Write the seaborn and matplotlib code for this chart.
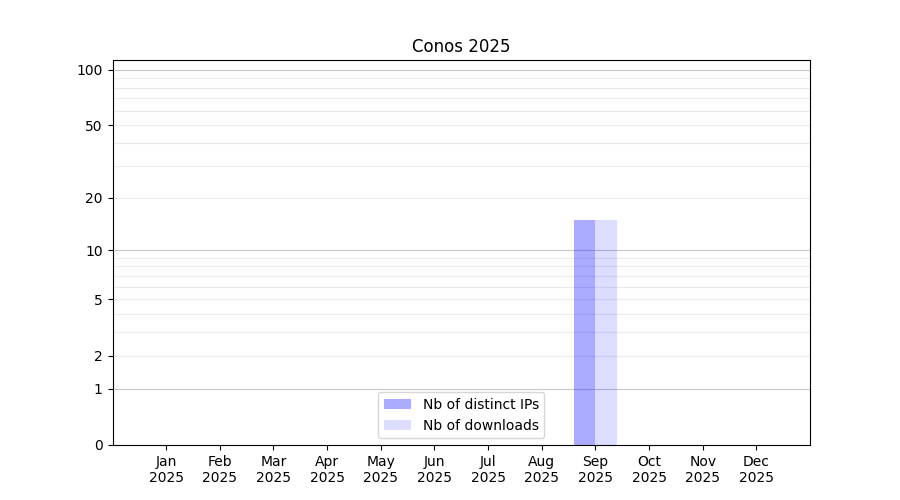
import numpy as np
import pandas as pd
import matplotlib
matplotlib.use('Agg')
import matplotlib.pyplot as plt
import seaborn as sns

months = ['Jan\n2025', 'Feb\n2025', 'Mar\n2025', 'Apr\n2025', 'May\n2025', 'Jun\n2025',
          'Jul\n2025', 'Aug\n2025', 'Sep\n2025', 'Oct\n2025', 'Nov\n2025', 'Dec\n2025']
distinct_ips = [0, 0, 0, 0, 0, 0, 0, 0, 15, 0, 0, 0]
downloads = [0, 0, 0, 0, 0, 0, 0, 0, 15, 0, 0, 0]
series_names = ['Nb of distinct IPs', 'Nb of downloads']
y_ticks = [0, 1, 2, 5, 10, 20, 50, 100]
major_lines = [1, 10, 100]
minor_lines = [2, 3, 4, 5, 6, 7, 8, 9, 20, 30, 40, 50, 60, 70, 80, 90]

df = pd.DataFrame({
    'month': months * 2,
    'count': distinct_ips + downloads,
    'series': [series_names[0]] * len(months) + [series_names[1]] * len(months),
})

fig, ax = plt.subplots(figsize=(9, 5), dpi=100)
ax.set_yscale('function', functions=(lambda v: np.log10(1 + np.clip(v, 0, None)),
                                      lambda v: 10 ** v - 1))

sns.barplot(data=df, x='month', y='count', hue='series', hue_order=series_names,
            order=months, ax=ax, width=0.8, linewidth=0, errorbar=None, legend=False)

# translucent blue bars, gridlines show through
for container, alpha in zip(ax.containers, [0.33, 0.135]):
    for bar in container:
        bar.set_facecolor('blue')
        bar.set_alpha(alpha)
        bar.set_zorder(2)

for v in minor_lines:
    ax.axhline(v, color='#ebebeb', linewidth=0.8, zorder=1)
for v in major_lines:
    ax.axhline(v, color='#c8c8c8', linewidth=0.8, zorder=1)

ax.set_ylim(0, 113)
ax.set_xlim(-1, len(months))
ax.set_yticks(y_ticks)
ax.set_yticklabels([str(t) for t in y_ticks])
ax.yaxis.set_minor_locator(matplotlib.ticker.NullLocator())
ax.set_xlabel('')
ax.set_ylabel('')
ax.set_title('Conos 2025')
ax.legend(handles=ax.containers, labels=series_names, loc='lower center')

plt.savefig('out.png', dpi=100)
